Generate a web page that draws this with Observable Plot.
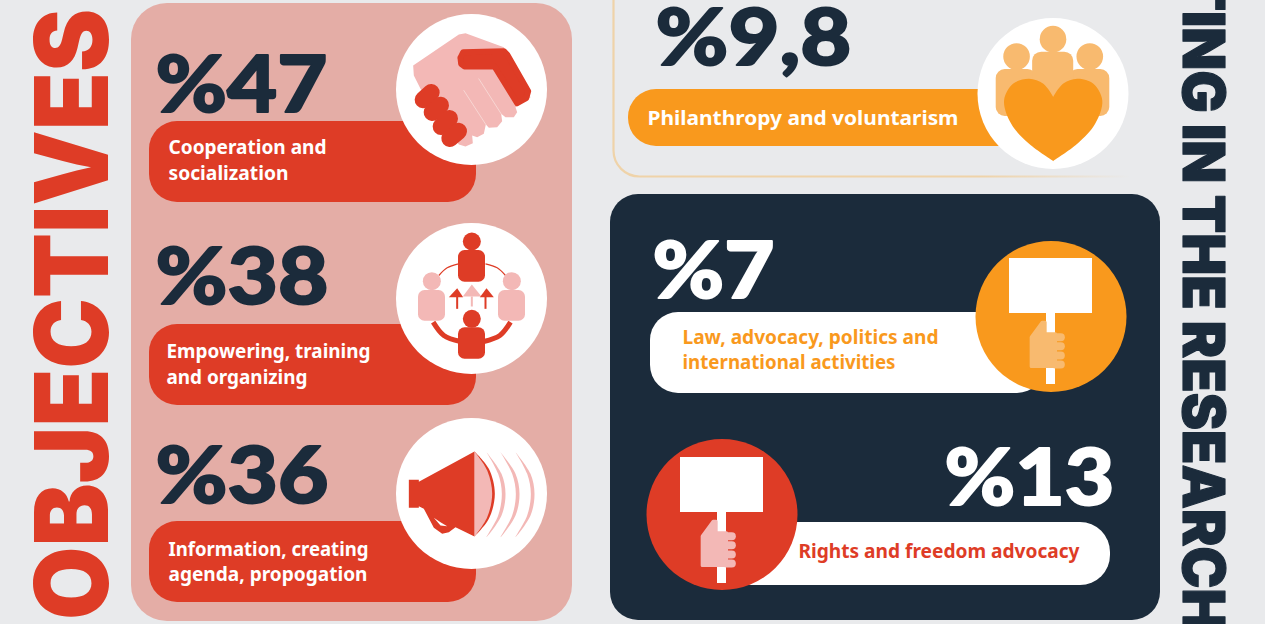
<!DOCTYPE html>
<html>
<head>
<meta charset="utf-8">
<script src="https://cdn.jsdelivr.net/npm/d3@7"></script>
<script src="https://cdn.jsdelivr.net/npm/@observablehq/plot@0.6"></script>
<style>html,body{margin:0;padding:0;background:#e9eaec;overflow:hidden}</style>
</head>
<body>
<div id="chart"></div>
<script>
// ---------- data ----------
const headings = ["OBJECTIVES", "TING IN THE RESEARCH"];
const percentTexts = ["%47", "%38", "%36", "%9,8", "%7", "%13"];
const labelLines = [
  ["Cooperation and", "socialization"],
  ["Empowering, training", "and organizing"],
  ["Information, creating", "agenda, propogation"],
  ["Philanthropy and voluntarism"],
  ["Law, advocacy, politics and", "international activities"],
  ["Rights and freedom advocacy"]
];

// ---------- palette ----------
const BG = "#e9eaec", PINK = "#e4ada6", RED = "#de3c26", NAVY = "#1b2b3b",
      ORANGE = "#f9991d", PALE_ORANGE = "#f8ba6f", PALE_PINK = "#f3b8b6", WHITE = "#ffffff";

// ---------- layout ----------
const HEAVY = "Inter, Roboto, sans-serif";
const NUMERIC = "Lato, Inter, sans-serif";
const LABEL = "'Noto Sans', 'Open Sans', sans-serif";
const percentLayout = [
  {x: 155, y: 111.5, w: 172, fill: NAVY},
  {x: 155, y: 303.5, w: 173, fill: NAVY},
  {x: 155, y: 502.5, w: 173, fill: NAVY},
  {x: 655, y: 64.5,  w: 196, fill: NAVY},
  {x: 652, y: 297.5, w: 122, fill: WHITE},
  {x: 944, y: 504.5, w: 170, fill: WHITE}
];
const labelLayout = [
  {x: 168, ys: [153, 179], ws: [158, 120], fill: WHITE},
  {x: 166, ys: [357, 383], ws: [204, 141], fill: WHITE},
  {x: 168, ys: [555, 580], ws: [200, 199], fill: WHITE},
  {x: 647, ys: [124], ws: [311], fill: WHITE},
  {x: 682, ys: [343, 368], ws: [256, 213], fill: ORANGE},
  {x: 798, ys: [557], ws: [281], fill: RED}
];

// ---------- helpers ----------
const fit = len => function (index, scales, values, dims, ctx, next) {
  const g = next(index, scales, values, dims, ctx);
  d3.select(g).selectAll("text").attr("textLength", len).attr("lengthAdjust", "spacingAndGlyphs");
  return g;
};
const txt = (s, x, y, len, o) => Plot.text([s], {
  x: () => x, y: () => y, text: d => d, textAnchor: "start", lineAnchor: "bottom",
  render: fit(len), ...o
});
const box = (x1, y1, x2, y2, r, fill, extra = {}) => Plot.rect([0], {
  x1: () => x1, y1: () => y1, x2: () => x2, y2: () => y2, rx: r, ry: r, fill, ...extra
});
const disc = (x, y, r, fill) => Plot.dot([0], {x: () => x, y: () => y, r, fill, stroke: "none"});
const shape = (pts, fill, curve = "linear") => Plot.line(pts, {
  x: d => d[0], y: d => d[1], fill, stroke: "none", curve
});
const stroke = (pts, color, w, curve = "linear", cap = "round") => Plot.line(pts, {
  x: d => d[0], y: d => d[1], stroke: color, strokeWidth: w, fill: "none", curve,
  strokeLinecap: cap, strokeLinejoin: "round"
});

const f1 = p => p.map(([x, y]) => [130 + x / 3, y / 3]);
const f2 = p => p.map(([x, y]) => [380 + x / 3, 210 + y / 3]);
const f3 = p => p.map(([x, y]) => [380 + x / 3, 410 + y / 3]);
const f4 = p => p.map(([x, y]) => [600 + x / 2.8, y / 3]);

// handshake
const band = [[990,172],[998,155],[1120,152],[1130,162],[1193,272],[1187,293],[1160,308],[1092,198],[1002,198],[992,190],[990,172]];
const handshake = [
  shape(f1([[848,195],[985,102],[1005,98],[1120,140],[1200,290],[1155,320],[1160,335],[1150,350],[1125,350],[1112,340],[1115,362],[1100,380],[1075,382],[1066,372],[1060,400],[1040,410],[1025,405],[1027,428],[1005,438],[985,432],[870,265],[850,225]]), PALE_PINK),
  stroke(f1([[1045,235],[1112,340]]), "#f8d6d3", 1),
  stroke(f1([[1000,270],[1066,372]]), "#f8d6d3", 1),
  shape(f1(band), RED),
  stroke(f1(band), RED, 6),
  stroke(f1([[878,298],[902,276]]), RED, 17),
  stroke(f1([[905,336],[930,314]]), RED, 17),
  stroke(f1([[932,378],[957,354]]), RED, 17),
  stroke(f1([[958,414],[984,392]]), RED, 17)
];

// people circle
const pill2 = (x1, y1, x2, y2, fill) => box(380 + x1 / 3, 210 + y1 / 3, 380 + x2 / 3, 210 + y2 / 3, 6.5, fill);
const peopleIcon = [
  stroke(f2([[175,195],[200,172],[234,160]]), RED, 1.2, "catmull-rom", "butt"),
  stroke(f2([[375,195],[350,172],[315,160]]), RED, 1.2, "catmull-rom", "butt"),
  stroke(f2([[158,335],[190,375],[240,393]]), RED, 5, "catmull-rom", "butt"),
  stroke(f2([[390,335],[358,375],[310,393]]), RED, 5, "catmull-rom", "butt"),
  disc(380 + 154 / 3, 210 + 212 / 3, 9, PALE_PINK), pill2(114, 240, 195, 332, PALE_PINK),
  disc(380 + 394 / 3, 210 + 212 / 3, 9, PALE_PINK), pill2(354, 240, 435, 332, PALE_PINK),
  disc(380 + 274 / 3, 210 + 93 / 3, 9, RED), pill2(234, 120, 315, 215, RED),
  shape(f2([[247,258],[274,222],[303,258]]), PALE_PINK),
  stroke(f2([[274,258],[274,288]]), PALE_PINK, 2, "linear", "butt"),
  shape(f2([[205,260],[230,233],[248,260]]), RED),
  stroke(f2([[230,258],[230,295]]), RED, 2, "linear", "butt"),
  shape(f2([[298,260],[318,233],[340,260]]), RED),
  stroke(f2([[315,258],[315,295]]), RED, 2, "linear", "butt"),
  disc(380 + 274 / 3, 210 + 325 / 3, 9, RED), pill2(234, 352, 315, 446, RED)
];

// megaphone
const wave = (a, w) => shape(f3([[a,125],[a + 45,190],[a + 57,250],[a + 45,315],[a,380],[a + 35,315],[a + 57 - w,250],[a + 35,190],[a,125]]), PALE_PINK, "catmull-rom");
const megaphone = [
  shape(f3([[85,208],[115,208],[115,214],[282,123],[282,378],[225,350],[205,365],[185,370],[160,352],[130,295],[115,287],[115,292],[85,292]]), RED),
  shape(f3([[160,322],[180,335],[200,347],[180,345]]), WHITE),
  shape(f3([[282,123],[325,175],[343,250],[325,325],[282,378]]), RED, "catmull-rom"),
  shape(f3([[282,123],[320,180],[335,250],[320,320],[282,378]]), PALE_PINK, "catmull-rom"),
  wave(318, 11), wave(360, 11), wave(405, 11)
];

// people and heart
const fbox = (x1, y1, x2, y2, fill) => box(600 + x1 / 2.8, y1 / 3, 600 + x2 / 2.8, y2 / 3, 9, fill);
const heartIcon = [
  disc(600 + 1165 / 2.8, 168 / 3, 13.3, PALE_ORANGE),
  disc(600 + 1267 / 2.8, 116 / 3, 13.3, PALE_ORANGE),
  disc(600 + 1370 / 2.8, 168 / 3, 13.3, PALE_ORANGE),
  fbox(1108, 207, 1222, 348, PALE_ORANGE),
  fbox(1312, 207, 1426, 348, PALE_ORANGE),
  fbox(1210, 155, 1325, 300, PALE_ORANGE),
  shape(f4([[1268,290],[1240,250],[1200,235],[1155,250],[1130,300],[1150,370],[1200,430],[1268,482]]), ORANGE, "catmull-rom"),
  shape(f4([[1267,290],[1295,250],[1335,235],[1380,250],[1405,300],[1385,370],[1335,430],[1267,482]]), ORANGE, "catmull-rom")
];

// protest sign
const sign = (dx, dy, hand) => {
  const p = pts => pts.map(([x, y]) => [960 + x / 3 + dx, 230 + y / 3 + dy]);
  return [
    box(1009 + dx, 258 + dy, 1092 + dx, 313 + dy, 0, WHITE),
    box(1046 + dx, 313 + dy, 1055 + dx, 384 + dy, 0, WHITE),
    stroke(p([[212,320],[245,275],[254,275],[254,310],[285,310],[285,408],[212,408],[212,320]]), hand, 3),
    shape(p([[212,320],[245,275],[254,275],[254,310],[285,310],[285,408],[212,408]]), hand),
    stroke(p([[285,320],[301,320]]), hand, 8),
    stroke(p([[285,347],[301,347]]), hand, 8),
    stroke(p([[285,375],[301,375]]), hand, 8),
    stroke(p([[285,402],[301,402]]), hand, 8)
  ];
};

// gradient for the fading orange frame
const defs = () => {
  const s = d3.create("svg:defs");
  const g = s.append("linearGradient").attr("id", "fade").attr("gradientUnits", "userSpaceOnUse")
    .attr("x1", 980).attr("x2", 1130).attr("y1", 0).attr("y2", 0);
  g.append("stop").attr("offset", 0).attr("stop-color", "#efd3a9").attr("stop-opacity", 1);
  g.append("stop").attr("offset", 1).attr("stop-color", "#efd3a9").attr("stop-opacity", 0);
  return s.node();
};

const percentMarks = percentTexts.map((s, i) => {
  const l = percentLayout[i];
  return txt(s, l.x, l.y, l.w, {fontFamily: NUMERIC, fontWeight: 900, fontSize: 78, fill: l.fill, stroke: l.fill, strokeWidth: 1.9, strokeLinejoin: "round"});
});
const labelMarks = labelLines.flatMap((lines, i) => {
  const l = labelLayout[i];
  return lines.map((s, j) => txt(s, l.x, l.ys[j], l.ws[j], {fontFamily: LABEL, fontWeight: 700, fontSize: 20, fill: l.fill}));
});

const chart = Plot.plot({
  width: 1265, height: 624, margin: 0,
  x: {domain: [0, 1265], axis: null},
  y: {domain: [624, 0], axis: null},
  style: {background: BG},
  marks: [
    defs,
    // panels
    box(131, 3, 572, 621, 36, PINK),
    box(613.5, -60, 1500, 176.5, 26, "none", {stroke: "url(#fade)", strokeWidth: 2.2}),
    box(610, 194, 1160, 620, 28, NAVY),
    // pills
    box(149, 121, 476, 202, 28, RED),
    box(149, 324, 476, 405, 28, RED),
    box(149, 521, 476, 602, 28, RED),
    box(628, 89, 1040, 146, 28, ORANGE),
    box(650, 312, 1045, 393, 28, WHITE),
    box(700, 522, 1110, 585, 30, WHITE),
    // discs
    disc(471, 89, 75.5, WHITE),
    disc(471, 298, 75.5, WHITE),
    disc(471, 493, 75.5, WHITE),
    disc(1052.5, 93, 75.5, WHITE),
    disc(1050.5, 316, 75.5, ORANGE),
    disc(721.5, 514, 75.5, RED),
    // icons
    ...handshake, ...peopleIcon, ...megaphone, ...heartIcon,
    ...sign(0, 0, PALE_ORANGE),
    ...sign(-329, 199, PALE_PINK),
    // vertical headings
    txt(headings[0], 107.5, 619.5, 611, {rotate: -90, fontFamily: HEAVY, fontWeight: 900, fontSize: 102, fill: RED}),
    txt(headings[1], 1182, -28, 658, {rotate: 90, fontFamily: HEAVY, fontWeight: 900, fontSize: 58, fill: NAVY, stroke: NAVY, strokeWidth: 1.2}),
    ...percentMarks,
    ...labelMarks
  ]
});
document.getElementById("chart").appendChild(chart);
</script>
</body>
</html>
